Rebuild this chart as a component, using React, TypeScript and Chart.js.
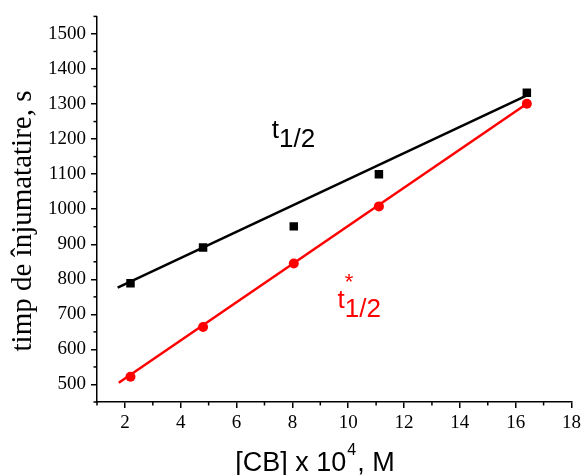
import React, { useEffect, useRef } from 'react';
import { Chart, registerables } from 'chart.js';

Chart.register(...registerables);

// data
const cbConc = [2.2, 4.8, 8.05, 11.1, 16.4];
const tHalf = [789, 891, 951, 1100, 1332];
const tHalfStar = [522, 664, 845, 1008, 1301];
const fitXBlack = [1.74, 16.5];
const fitYBlack = [776, 1328];
const fitXRed = [1.78, 16.4];
const fitYRed = [505, 1301];

const xMajor = [2, 4, 6, 8, 10, 12, 14, 16, 18];
const xMinor = [1, 3, 5, 7, 9, 11, 13, 15, 17];
const yMajor = [500, 600, 700, 800, 900, 1000, 1100, 1200, 1300, 1400, 1500];
const yMinor = [450, 550, 650, 750, 850, 950, 1050, 1150, 1250, 1350, 1450, 1550];

const pts = (xs: number[], ys: number[]) => xs.map((x, i) => ({ x, y: ys[i] }));

const overlay = {
  id: 'overlay',
  afterDraw(chart: any) {
    const { ctx, scales } = chart;
    const x = scales.x;
    const y = scales.y;
    ctx.save();
    ctx.strokeStyle = '#000';
    ctx.lineWidth = 1.5;
    xMinor.forEach((v) => {
      const px = x.getPixelForValue(v);
      ctx.beginPath();
      ctx.moveTo(px, y.bottom);
      ctx.lineTo(px, y.bottom + 3.5);
      ctx.stroke();
    });
    yMinor.forEach((v) => {
      const py = y.getPixelForValue(v);
      ctx.beginPath();
      ctx.moveTo(x.left, py);
      ctx.lineTo(x.left - 3.5, py);
      ctx.stroke();
    });

    // y axis title
    ctx.fillStyle = '#000';
    ctx.font = '29px "Liberation Serif", "Times New Roman", serif';
    ctx.textAlign = 'center';
    ctx.textBaseline = 'alphabetic';
    ctx.save();
    ctx.translate(31, 221);
    ctx.rotate(-Math.PI / 2);
    ctx.fillText('timp de înjumatatire, s', 0, 0);
    ctx.restore();

    // x axis title with superscript
    ctx.textAlign = 'left';
    ctx.textBaseline = 'alphabetic';
    const f1 = '27px "Liberation Sans", Arial, sans-serif';
    const f2 = '16px "Liberation Sans", Arial, sans-serif';
    const a = '[CB] x 10';
    const b = '4';
    const c = ', M';
    ctx.font = f1;
    const wa = ctx.measureText(a).width;
    const wc = ctx.measureText(c).width;
    ctx.font = f2;
    const wb = ctx.measureText(b).width;
    const total = wa + wb + wc + 2;
    const sx = 315 - total / 2;
    const base = 471;
    ctx.font = f1;
    ctx.fillText(a, sx, base);
    ctx.font = f2;
    ctx.fillText(b, sx + wa + 1, base - 16);
    ctx.font = f1;
    ctx.fillText(c, sx + wa + wb + 2, base);

    // annotations
    const drawT = (color: string, vx: number, vy: number, star: boolean) => {
      const px = x.getPixelForValue(vx);
      const py = y.getPixelForValue(vy);
      ctx.fillStyle = color;
      ctx.font = '26px "Liberation Sans", Arial, sans-serif';
      ctx.fillText('t', px, py);
      const wt = ctx.measureText('t').width;
      ctx.fillText('1/2', px + wt, py + 9);
      if (star) {
        ctx.font = '22px "Liberation Sans", Arial, sans-serif';
        ctx.fillText('*', px + wt, py - 19);
      }
    };
    drawT('#000', 7.26, 1204, false);
    drawT('#ff0000', 9.62, 719, true);
    ctx.restore();
  },
};

export default function App() {
  const ref = useRef<HTMLCanvasElement>(null);
  useEffect(() => {
    if (!ref.current) return;
    const tickFont = { family: '"Liberation Serif", "Times New Roman", serif', size: 19 };
    const chart = new Chart(ref.current, {
      type: 'scatter',
      data: {
        datasets: [
          {
            data: pts(fitXBlack, fitYBlack),
            showLine: true,
            borderColor: '#000',
            borderWidth: 2.5,
            pointRadius: 0,
          },
          {
            data: pts(fitXRed, fitYRed),
            showLine: true,
            borderColor: '#ff0000',
            borderWidth: 2.5,
            pointRadius: 0,
          },
          {
            data: pts(cbConc, tHalf),
            pointStyle: 'rect',
            pointRadius: 6,
            backgroundColor: '#000',
            borderColor: '#000',
            borderWidth: 0,
          },
          {
            data: pts(cbConc, tHalfStar),
            pointStyle: 'circle',
            pointRadius: 5,
            backgroundColor: '#ff0000',
            borderColor: '#ff0000',
            borderWidth: 0,
          },
        ],
      },
      options: {
        responsive: false,
        animation: false,
        layout: { padding: { left: 0, top: 15, right: 11, bottom: 0 } },
        plugins: { legend: { display: false }, tooltip: { enabled: false } },
        scales: {
          x: {
            type: 'linear',
            min: 1,
            max: 18,
            afterBuildTicks: (s: any) => {
              s.ticks = xMajor.map((v) => ({ value: v }));
            },
            afterFit: (s: any) => {
              s.height = 73;
            },
            grid: { drawOnChartArea: false, drawTicks: true, tickLength: 6, color: '#000', lineWidth: 1.5 },
            border: { display: true, color: '#000', width: 1.5 },
            ticks: {
              color: '#000',
              padding: 4,
              maxRotation: 0,
              autoSkip: false,
              font: tickFont,
              callback: (v: any) => String(v),
            },
          },
          y: {
            type: 'linear',
            min: 450,
            max: 1550,
            afterBuildTicks: (s: any) => {
              s.ticks = yMajor.map((v) => ({ value: v }));
            },
            afterFit: (s: any) => {
              s.width = 97;
            },
            grid: { drawOnChartArea: false, drawTicks: true, tickLength: 6, color: '#000', lineWidth: 1.5 },
            border: { display: true, color: '#000', width: 1.5 },
            ticks: {
              color: '#000',
              padding: 5,
              autoSkip: false,
              font: tickFont,
              callback: (v: any) => String(v),
            },
          },
        },
      },
      plugins: [overlay],
    });
    return () => chart.destroy();
  }, []);
  return (
    <div style={{ position: 'absolute', left: 0, top: 0, width: 585, height: 475, background: '#fff' }}>
      <canvas ref={ref} width={585} height={475} />
    </div>
  );
}
